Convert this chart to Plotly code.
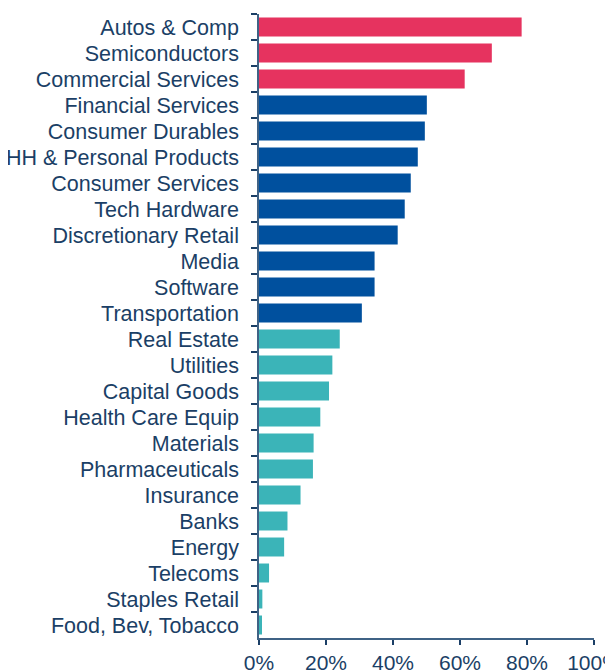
import plotly.graph_objects as go

categories = ["Autos & Comp", "Semiconductors", "Commercial Services", "Financial Services",
              "Consumer Durables", "HH & Personal Products", "Consumer Services", "Tech Hardware",
              "Discretionary Retail", "Media", "Software", "Transportation", "Real Estate",
              "Utilities", "Capital Goods", "Health Care Equip", "Materials", "Pharmaceuticals",
              "Insurance", "Banks", "Energy", "Telecoms", "Staples Retail", "Food, Bev, Tobacco"]
values = [78.4, 69.5, 61.4, 50.1, 49.5, 47.4, 45.3, 43.5, 41.4, 34.5, 34.5, 30.7, 24.1,
          21.9, 20.9, 18.3, 16.3, 16.1, 12.4, 8.5, 7.5, 3.0, 1.0, 0.9]
groups = ["top"] * 3 + ["mid"] * 9 + ["low"] * 12
group_colors = {"top": "#E6335F", "mid": "#00509E", "low": "#3BB4B8"}
x_ticks = [0, 20, 40, 60, 80, 100]
x_tick_labels = ["0%", "20%", "40%", "60%", "80%", "100%"]

text_color = "#1B3F66"
axis_color = "#3F6285"

fig = go.Figure(go.Bar(
    x=values,
    y=categories,
    orientation="h",
    marker=dict(color=[group_colors[g] for g in groups], line=dict(width=0)),
    hoverinfo="skip",
))

fig.update_layout(
    width=613, height=670,
    margin=dict(l=251, r=27, t=6, b=40, autoexpand=False),
    paper_bgcolor="white", plot_bgcolor="white",
    bargap=0.27,
    showlegend=False,
    font=dict(family="Liberation Sans, Arial, sans-serif", size=21, color=text_color),
)
fig.update_xaxes(
    range=[0, 100], tickvals=x_ticks, ticktext=x_tick_labels,
    showgrid=False, zeroline=False,
    showline=True, linecolor=axis_color, linewidth=1.5,
    ticks="outside", ticklen=5, tickcolor=text_color, tickwidth=1.5,
    tickfont=dict(size=21, color=text_color),
    ticklabelstandoff=0,
)
fig.update_yaxes(
    categoryorder="array", categoryarray=categories, autorange="reversed",
    showgrid=False, zeroline=False,
    showline=True, linecolor=axis_color, linewidth=1.5,
    ticks="outside", ticklen=6, tickcolor=text_color, tickwidth=1.5,
    tickson="boundaries",
    tickfont=dict(size=21.5, color=text_color),
    ticklabelstandoff=14,
)

fig.write_html("out.html")
